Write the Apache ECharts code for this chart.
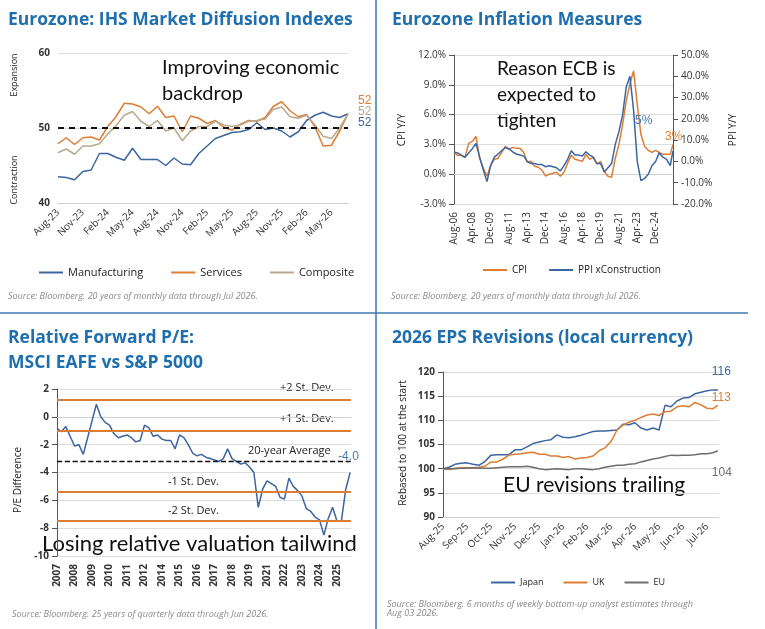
<!DOCTYPE html>
<html>
<head>
<meta charset="utf-8">
<script src="https://cdn.jsdelivr.net/npm/echarts@6/dist/echarts.min.js"></script>
<style>
  html, body { margin: 0; padding: 0; background: #fff; }
  #chart { width: 765px; height: 629px; }
</style>
</head>
<body>
<div id="chart"></div>
<script>
// ---- panel 1: PMI diffusion indexes (monthly Aug-23 .. Jul-26)
const pmiMonths = ['Aug-23','Sep-23','Oct-23','Nov-23','Dec-23','Jan-24','Feb-24','Mar-24','Apr-24','May-24','Jun-24','Jul-24',
  'Aug-24','Sep-24','Oct-24','Nov-24','Dec-24','Jan-25','Feb-25','Mar-25','Apr-25','May-25','Jun-25','Jul-25',
  'Aug-25','Sep-25','Oct-25','Nov-25','Dec-25','Jan-26','Feb-26','Mar-26','Apr-26','May-26','Jun-26','Jul-26'];
const manufacturing = [43.5,43.4,43.1,44.2,44.4,46.6,46.6,46.1,45.7,47.3,45.8,45.8,45.8,45.0,46.0,45.2,45.1,46.6,47.6,48.6,49.0,49.4,49.5,49.8,50.7,49.8,50.0,49.6,48.8,49.5,51.0,51.7,52.1,51.6,51.4,51.9];
const services = [47.9,48.7,47.8,48.7,48.8,48.4,50.2,51.5,53.3,53.2,52.8,51.9,52.9,51.4,51.6,49.5,51.6,51.3,50.6,51.0,50.1,49.7,50.5,51.0,50.9,51.4,52.9,53.5,52.3,51.5,51.8,50.2,47.6,47.7,49.6,51.9];
const composite = [46.7,47.2,46.5,47.6,47.6,47.9,49.2,50.3,51.7,52.2,50.9,50.2,51.0,49.6,50.0,48.3,49.6,50.2,50.2,50.9,50.4,50.2,50.4,50.9,51.0,51.2,52.5,52.8,51.5,51.3,51.7,50.4,48.9,48.6,50.0,51.9];

// ---- panel 2: inflation, one reading every 4 months from Aug-06, last point Jul-26
const inflStart = ['Aug', 2006];
const cpi = [2.2,1.9,1.9,1.7,3.1,3.3,3.8,1.6,0.6,-0.2,0.9,1.5,1.6,2.2,2.8,2.5,2.7,2.6,2.6,2.2,1.2,1.3,0.8,0.7,0.4,-0.2,0.0,0.1,0.2,-0.2,
  0.2,1.1,1.9,1.5,1.4,1.3,2.0,1.5,1.7,1.0,1.3,0.3,-0.2,-0.3,1.6,3.0,5.0,7.4,9.1,10.4,7.0,4.0,2.8,2.4,2.2,2.4,2.2,2.0,2.0,2.0,3.0];
const ppi = [4.5,4,3,2,4,6,8.5,2,-4,-9.5,-2,2,3.5,5,6.5,6,4.5,3.5,3,2.5,0,-1,-1,-1.5,-1.5,-2.5,-2,-2.5,-3,-4.5,
  -2,1,5,3,3,2.5,4.5,3,2,-1,-1,-5,-3,-1,8,14,22,35,40,24,0,-9,-8,-6,-2,0,4,2,1,-2,5];
const inflLastMonth = 239;

// ---- panel 3: relative forward P/E, one reading per quarter of a label step
const peYears = ['2007','2008','2009','2010','2011','2012','2014','2015','2016','2017','2018','2019','2021','2022','2023','2024','2025'];
const peDiff = [-0.83,-1.07,-0.7,-1.4,-2.1,-2.0,-2.7,-1.5,-0.3,0.9,0.0,-0.4,-0.6,-1.2,-1.5,-1.4,-1.3,-1.5,-1.8,-1.7,
  -0.6,-0.8,-1.4,-1.3,-1.6,-1.7,-1.7,-2.3,-1.3,-1.5,-2.0,-2.6,-2.8,-2.7,-2.9,-3.0,-3.1,-3.2,-3.0,-2.3,
  -3.0,-3.2,-3.4,-3.3,-3.6,-4.0,-6.5,-5.2,-4.6,-4.8,-5.0,-5.8,-5.9,-4.4,-5.0,-5.3,-5.7,-6.6,-6.8,-7.2,
  -7.4,-8.5,-7.3,-6.5,-7.5,-7.5,-5.2,-4.0];
const peBands = { plus2: 1.2, plus1: -1.0, avg: -3.2, minus1: -5.4, minus2: -7.5 };

// ---- panel 4: 2026 EPS revisions, weekly
const epsMonths = ['Aug-25','Sep-25','Oct-25','Nov-25','Dec-25','Jan-26','Feb-26','Mar-26','Apr-26','May-26','Jun-26','Jul-26'];
const japan = [100,100.3,100.9,101.1,101.2,100.9,100.7,101.5,102.8,102.9,102.9,102.9,103.9,103.9,104.5,105.2,105.5,105.8,106.0,107.0,
  106.5,106.4,106.6,106.9,107.3,107.7,107.8,107.8,107.9,108.0,109.2,109.1,109.5,108.4,108.0,108.4,108.0,113.1,112.8,114.0,
  114.6,114.7,115.5,115.8,116.1,116.3,116.3];
const uk = [100,99.8,100.1,100.2,100.2,100.2,100.3,100.5,101.4,101.4,102.0,102.8,103.0,103.1,103.3,103.4,103.0,103.0,102.6,102.6,
  102.3,102.5,102.0,102.2,102.3,102.6,103.7,104.3,105.6,108.0,109.0,109.6,110.0,110.6,111.1,111.3,111.0,111.8,111.9,112.8,
  113.0,112.8,113.7,113.2,112.5,112.4,113.1];
const eu = [100,100,100,100.1,100.1,100.2,100.1,100.1,100.1,100.2,100.3,100.4,100.4,100.4,100.5,100.3,100.0,99.8,99.9,100.0,
  99.9,99.8,100.0,100.0,99.9,99.8,100.0,100.3,100.5,100.7,100.7,100.9,101.0,101.4,101.7,102.0,102.2,102.5,102.8,102.7,
  102.8,102.8,102.9,103.1,103.1,103.3,103.7];

const BLUE = '#3b66a0', ORANGE = '#dd7d34', TAN = '#b8a98c', GREY = '#6e6e6e', TITLE = '#1f6fae';
const FONT = 'Open Sans';
const HAND = 'Lato';

const monNames = ['Jan','Feb','Mar','Apr','May','Jun','Jul','Aug','Sep','Oct','Nov','Dec'];
function inflLabel(idx) {
  const m0 = monNames.indexOf(inflStart[0]);
  const t = m0 + idx;
  const y = inflStart[1] + Math.floor(t / 12);
  return monNames[t % 12] + '-' + String(y).slice(2);
}
const cpiPts = cpi.map((v, i) => [i === cpi.length - 1 ? inflLastMonth : i * 4, v]);
const ppiPts = ppi.map((v, i) => [i === ppi.length - 1 ? inflLastMonth : i * 4, v]);
const pePts = peDiff.map((v, i) => [i === peDiff.length - 1 ? 16.75 : i * 0.25, v]);
const weekPts = arr => arr.map((v, i) => [i === arr.length - 1 ? 11.45 : i * 0.25, v]);

const axisText = { color: '#333', fontSize: 10, fontFamily: FONT };
const gridLine = { show: true, lineStyle: { color: '#dcdcdc' } };
const axisLine = { show: true, lineStyle: { color: '#d0d0d0' } };

function titleAt(text, left, top) {
  return { text, left, top, textStyle: { color: TITLE, fontSize: 17.5, fontWeight: 'bold', fontFamily: FONT, lineHeight: 25 } };
}
function txt(x, y, text, style) {
  return { type: 'text', left: x, top: y, style: Object.assign({ text, fill: '#222', font: '11px ' + FONT }, style || {}) };
}
function rotTxt(x, y, text, size) {
  return { type: 'text', x, y, rotation: Math.PI / 2,
    style: { text, fill: '#222', font: (size || 10) + 'px ' + FONT, align: 'center', verticalAlign: 'middle' } };
}
function source(x, y, text) {
  return txt(x, y, text, { fill: '#8a8a8a', font: 'italic 9px ' + FONT });
}
function bandLine(y, color, type) {
  return { yAxis: y, lineStyle: { color, type, width: type === 'dashed' ? 1.3 : 2 } };
}
function legendAt(names, left, top, gap, size) {
  return { data: names, left, top, itemGap: gap, itemWidth: 24, itemHeight: 2, icon: 'rect',
    textStyle: { fontSize: size, fontFamily: FONT, color: '#222' } };
}

const chart = echarts.init(document.getElementById('chart'));
chart.setOption({
  animation: false,
  title: [
    titleAt('Eurozone: IHS Market Diffusion Indexes', 3, 3),
    titleAt('Eurozone Inflation Measures', 387, 3),
    titleAt('Relative Forward P/E:\nMSCI EAFE vs S&P 5000', 3, 321),
    titleAt('2026 EPS Revisions (local currency)', 387, 321)
  ],
  legend: [
    legendAt(['Manufacturing', 'Services', 'Composite'], 34, 262, 28, 11),
    legendAt(['CPI', 'PPI xConstruction'], 478, 260, 22, 10),
    legendAt(['Japan', 'UK', 'EU'], 486, 573, 20, 9)
  ],
  grid: [
    { left: 58, top: 53, width: 290, height: 150 },
    { left: 454, top: 55, width: 219, height: 149 },
    { left: 57, top: 389, width: 294, height: 167 },
    { left: 443, top: 372, width: 276, height: 145 }
  ],
  xAxis: [
    { gridIndex: 0, type: 'category', data: pmiMonths, boundaryGap: false,
      axisLine, axisTick: { show: false },
      axisLabel: Object.assign({}, axisText, { interval: 2, rotate: 45 }) },
    { gridIndex: 1, type: 'value', min: 0, max: 239, interval: 20, splitLine: { show: false },
      axisLine, axisTick: { show: false },
      axisLabel: Object.assign({}, axisText, { rotate: 90, formatter: v => v % 20 === 0 && v <= 220 ? inflLabel(v) : '' }) },
    { gridIndex: 2, type: 'value', min: 0, max: 16.8, interval: 1, splitLine: { show: false },
      axisLine, axisTick: { show: false },
      axisLabel: Object.assign({}, axisText, { rotate: 90, fontWeight: 'bold', formatter: v => peYears[v] || '' }) },
    { gridIndex: 3, type: 'value', min: 0, max: 11.5, interval: 1, splitLine: { show: false },
      axisLine, axisTick: { show: false },
      axisLabel: Object.assign({}, axisText, { rotate: 45, formatter: v => epsMonths[v] || '' }) }
  ],
  yAxis: [
    { gridIndex: 0, type: 'value', min: 40, max: 60, interval: 10, splitLine: gridLine,
      axisLabel: Object.assign({}, axisText, { fontWeight: 'bold' }) },
    { gridIndex: 1, type: 'value', min: -3, max: 12, interval: 3, splitLine: gridLine,
      axisLabel: Object.assign({}, axisText, { formatter: v => v.toFixed(1) + '%' }) },
    { gridIndex: 1, type: 'value', position: 'right', min: -20, max: 50, interval: 10, splitLine: { show: false },
      axisLabel: Object.assign({}, axisText, { formatter: v => v.toFixed(1) + '%' }) },
    { gridIndex: 2, type: 'value', min: -10, max: 2, interval: 2, splitLine: gridLine,
      axisLabel: Object.assign({}, axisText, { fontWeight: 'bold' }) },
    { gridIndex: 3, type: 'value', min: 90, max: 120, interval: 5, splitLine: gridLine,
      axisLabel: Object.assign({}, axisText, { fontWeight: 'bold' }) }
  ],
  series: [
    { name: 'Manufacturing', type: 'line', xAxisIndex: 0, yAxisIndex: 0, data: manufacturing, symbol: 'none',
      lineStyle: { color: BLUE, width: 1.5 }, itemStyle: { color: BLUE },
      endLabel: { show: true, formatter: '52', color: BLUE, fontSize: 12, offset: [2, 9] },
      markLine: { silent: true, symbol: 'none', label: { show: false },
        data: [{ yAxis: 50, lineStyle: { color: '#111', type: [6, 5], width: 2 } }] } },
    { name: 'Services', type: 'line', xAxisIndex: 0, yAxisIndex: 0, data: services, symbol: 'none',
      lineStyle: { color: ORANGE, width: 1.5 }, itemStyle: { color: ORANGE },
      endLabel: { show: true, formatter: '52', color: ORANGE, fontSize: 12, offset: [2, -13] } },
    { name: 'Composite', type: 'line', xAxisIndex: 0, yAxisIndex: 0, data: composite, symbol: 'none',
      lineStyle: { color: TAN, width: 1.5 }, itemStyle: { color: TAN },
      endLabel: { show: true, formatter: '52', color: TAN, fontSize: 12, offset: [2, -2] } },

    { name: 'CPI', type: 'line', xAxisIndex: 1, yAxisIndex: 1, data: cpiPts, symbol: 'none',
      lineStyle: { color: ORANGE, width: 1.5 }, itemStyle: { color: ORANGE },
      endLabel: { show: true, formatter: '3%', color: ORANGE, fontSize: 12, offset: [-16, -8] } },
    { name: 'PPI xConstruction', type: 'line', xAxisIndex: 1, yAxisIndex: 2, data: ppiPts, symbol: 'none',
      lineStyle: { color: BLUE, width: 1.5 }, itemStyle: { color: BLUE },
      endLabel: { show: true, formatter: '5%', color: '#4a78b0', fontSize: 12, offset: [-46, -30] } },

    { name: 'PE', type: 'line', xAxisIndex: 2, yAxisIndex: 3, data: pePts, symbol: 'none',
      lineStyle: { color: BLUE, width: 1.5 },
      endLabel: { show: true, formatter: '-4.0', color: '#4a78b0', fontSize: 12, offset: [-20, -16] },
      markLine: { silent: true, symbol: 'none', label: { show: false },
        data: [bandLine(peBands.plus2, ORANGE, 'solid'), bandLine(peBands.plus1, ORANGE, 'solid'),
               bandLine(peBands.avg, '#111', 'dashed'), bandLine(peBands.minus1, ORANGE, 'solid'),
               bandLine(peBands.minus2, ORANGE, 'solid')] } },

    { name: 'Japan', type: 'line', xAxisIndex: 3, yAxisIndex: 4, data: weekPts(japan), symbol: 'none',
      lineStyle: { color: BLUE, width: 1.5 }, itemStyle: { color: BLUE },
      endLabel: { show: true, formatter: '116', color: BLUE, fontSize: 12, offset: [-14, -18] } },
    { name: 'UK', type: 'line', xAxisIndex: 3, yAxisIndex: 4, data: weekPts(uk), symbol: 'none',
      lineStyle: { color: ORANGE, width: 1.5 }, itemStyle: { color: ORANGE },
      endLabel: { show: true, formatter: '113', color: ORANGE, fontSize: 12, offset: [-14, -8] } },
    { name: 'EU', type: 'line', xAxisIndex: 3, yAxisIndex: 4, data: weekPts(eu), symbol: 'none',
      lineStyle: { color: GREY, width: 1.5 }, itemStyle: { color: GREY },
      endLabel: { show: true, formatter: '104', color: GREY, fontSize: 12, offset: [-14, 22] } }
  ],
  graphic: [
    { type: 'line', shape: { x1: 376, y1: 0, x2: 376, y2: 629 }, style: { stroke: '#3e78b2', lineWidth: 1.5 } },
    { type: 'line', shape: { x1: 0, y1: 313, x2: 748, y2: 313 }, style: { stroke: '#3e78b2', lineWidth: 1.5 } },
    // panel 1
    rotTxt(14, 75, 'Expansion', 9), rotTxt(14, 180, 'Contraction', 9),
    txt(162, 55, 'Improving economic\nbackdrop', { font: '20px ' + HAND, lineHeight: 26, fill: '#111' }),
    source(8, 292, 'Source: Bloomberg. 20 years of monthly data through Jul 2026.'),
    // panel 2
    rotTxt(402, 130, 'CPI Y/Y', 10), rotTxt(733, 130, 'PPI Y/Y', 10),
    txt(497, 56, 'Reason ECB is\nexpected to\ntighten', { font: '19px ' + HAND, lineHeight: 26, fill: '#111' }),
    source(391, 292, 'Source: Bloomberg. 20 years of monthly data through Jul 2026.'),
    // panel 3
    rotTxt(18, 480, 'P/E Difference', 10),
    txt(280, 382, '+2 St. Dev.', { font: '11px ' + FONT }),
    txt(280, 413, '+1 St. Dev.', { font: '11px ' + FONT }),
    txt(248, 445, '20-year Average', { font: '11px ' + FONT }),
    txt(168, 476, '-1 St. Dev.', { font: '11px ' + FONT }),
    txt(168, 505, '-2 St. Dev.', { font: '11px ' + FONT }),
    txt(42, 533, 'Losing relative valuation tailwind', { font: '22px ' + HAND, fill: '#111' }),
    source(12, 610, 'Source: Bloomberg. 25 years of quarterly data through Jun 2026.'),
    // panel 4
    rotTxt(403, 443, 'Rebased to 100 at the start', 10),
    txt(503, 475, 'EU revisions trailing', { font: '21px ' + HAND, fill: '#111' }),
    source(387, 600, 'Source: Bloomberg. 6 months of weekly bottom-up analyst estimates through\nAug 03 2026.')
  ]
});
</script>
</body>
</html>
